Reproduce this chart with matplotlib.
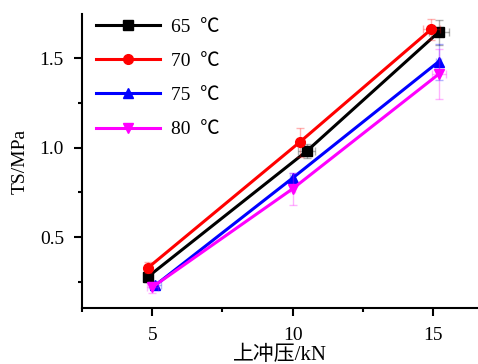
import matplotlib.pyplot as plt
from matplotlib.ticker import MultipleLocator

plt.rcParams['font.family'] = ['Liberation Serif', 'Noto Sans CJK SC']

# data
labels = ['65  ℃', '70  ℃', '75  ℃', '80  ℃']
colors = ['black', 'red', 'blue', 'magenta']
markers = ['s', 'o', '^', 'v']
x_65 = [4.86, 10.5, 15.2]
y_65 = [0.28, 0.98, 1.645]
x_70 = [4.86, 10.25, 14.93]
y_70 = [0.33, 1.03, 1.66]
x_75 = [5.1, 10.0, 15.2]
y_75 = [0.23, 0.83, 1.48]
x_80 = [5.0, 10.0, 15.2]
y_80 = [0.22, 0.77, 1.41]
xerr_65 = [0.15, 0.3, 0.35]
yerr_65 = [0.03, 0.04, 0.07]
xerr_70 = [0.1, 0.1, 0.3]
yerr_70 = [0.03, 0.08, 0.06]
xerr_75 = [0.2, 0.1, 0.1]
yerr_75 = [0.02, 0.03, 0.1]
xerr_80 = [0.2, 0.1, 0.25]
yerr_80 = [0.03, 0.09, 0.14]

xs = [x_65, x_70, x_75, x_80]
ys = [y_65, y_70, y_75, y_80]
xerrs = [xerr_65, xerr_70, xerr_75, xerr_80]
yerrs = [yerr_65, yerr_70, yerr_75, yerr_80]

fig = plt.figure(figsize=(4.78, 3.64), dpi=100)
ax = fig.add_axes([0.1715, 0.1538, 0.8285, 0.8077])

for x, y, xe, ye, c, m, lab in zip(xs, ys, xerrs, yerrs, colors, markers, labels):
    ax.errorbar(x, y, xerr=xe, yerr=ye, fmt='none', ecolor=c, alpha=0.3,
                elinewidth=1, capsize=3)
    ax.plot(x, y, color=c, marker=m, markersize=7, linewidth=2.2, label=lab)

ax.set_xlim(2.5, 16.6)
ax.set_ylim(0.104, 1.746)
ax.xaxis.set_minor_locator(MultipleLocator(2.5))
ax.yaxis.set_minor_locator(MultipleLocator(0.25))
ax.set_xticks([5, 10, 15])
ax.set_xticklabels(['5', '10', '15'])
ax.set_yticks([0.5, 1.0, 1.5])
ax.set_yticklabels(['0.5', '1.0', '1.5'])

for s in ['top', 'right']:
    ax.spines[s].set_visible(False)
for s in ['left', 'bottom']:
    ax.spines[s].set_linewidth(1.5)
ax.tick_params(which='major', length=6, width=1.5, labelsize=14)
ax.tick_params(axis='y', which='major', pad=7)
ax.tick_params(axis='x', which='major', pad=8)
ax.tick_params(which='minor', length=3, width=1.5)

ax.set_xlabel('上冲压/kN', fontsize=15, labelpad=1)
ax.set_ylabel('TS/MPa', fontsize=14, labelpad=8)

ax.legend(loc='upper left', bbox_to_anchor=(-0.01, 1.045), frameon=False,
          fontsize=14, handlelength=3.3, labelspacing=0.85, handletextpad=0.6)

fig.savefig('out.png', dpi=100)
